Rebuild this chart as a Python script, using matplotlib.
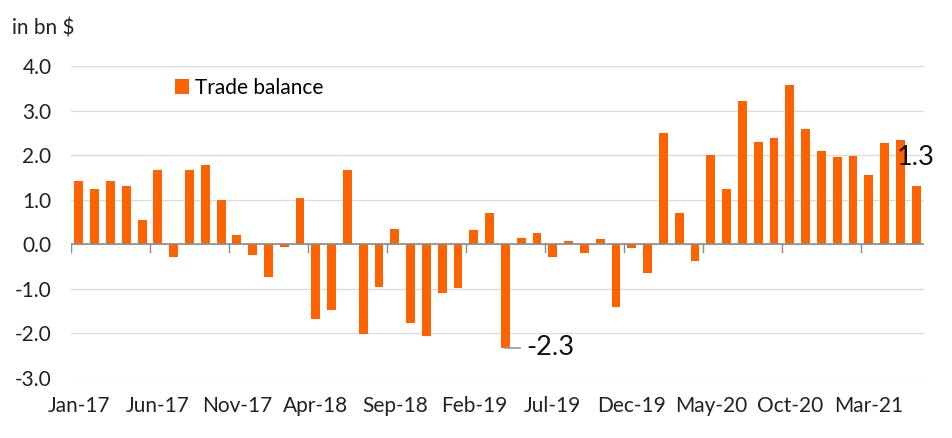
import matplotlib
matplotlib.use('Agg')
import matplotlib.pyplot as plt
import numpy as np

plt.rcParams['font.family'] = ['Lato', 'DejaVu Sans']

# monthly trade balance, Jan-17 .. Jun-21 (bn $)
months = ['Jan-17', 'Feb-17', 'Mar-17', 'Apr-17', 'May-17', 'Jun-17', 'Jul-17', 'Aug-17', 'Sep-17', 'Oct-17',
          'Nov-17', 'Dec-17', 'Jan-18', 'Feb-18', 'Mar-18', 'Apr-18', 'May-18', 'Jun-18', 'Jul-18', 'Aug-18',
          'Sep-18', 'Oct-18', 'Nov-18', 'Dec-18', 'Jan-19', 'Feb-19', 'Mar-19', 'Apr-19', 'May-19', 'Jun-19',
          'Jul-19', 'Aug-19', 'Sep-19', 'Oct-19', 'Nov-19', 'Dec-19', 'Jan-20', 'Feb-20', 'Mar-20', 'Apr-20',
          'May-20', 'Jun-20', 'Jul-20', 'Aug-20', 'Sep-20', 'Oct-20', 'Nov-20', 'Dec-20', 'Jan-21', 'Feb-21',
          'Mar-21', 'Apr-21', 'May-21', 'Jun-21']
balance = [1.42, 1.24, 1.42, 1.31, 0.55, 1.67, -0.28, 1.67, 1.78, 0.99,
           0.21, -0.24, -0.73, -0.06, 1.04, -1.67, -1.47, 1.67, -2.01, -0.96,
           0.34, -1.76, -2.06, -1.09, -0.98, 0.32, 0.70, -2.32, 0.14, 0.25,
           -0.28, 0.07, -0.19, 0.12, -1.40, -0.08, -0.64, 2.50, 0.70, -0.37,
           2.00, 1.24, 3.21, 2.30, 2.39, 3.57, 2.59, 2.09, 1.96, 1.98,
           1.56, 2.27, 2.34, 1.31]
yticks = [-3.0, -2.0, -1.0, 0.0, 1.0, 2.0, 3.0, 4.0]

orange = '#FF6200'
x = np.arange(len(months))

fig = plt.figure(figsize=(9.52, 4.38), dpi=100)
ax = fig.add_axes([0.0746, 0.137, 0.896, 0.712])

ax.bar(x, balance, width=0.56, color=orange, label='Trade balance', zorder=3)

ax.set_xlim(-0.5, len(months) - 0.5)
ax.set_ylim(-3, 4)
ax.set_yticks(yticks)
ax.set_yticklabels([f'{v:.1f}' for v in yticks])
ax.grid(axis='y', color='#dcdcdc', linewidth=1)
ax.set_axisbelow(True)
for s in ax.spines.values():
    s.set_visible(False)

step = 5
ax.set_xticks(x[::step])
ax.set_xticklabels(months[::step])
ax.tick_params(axis='x', length=0, pad=13, labelsize=15, labelcolor='#222222')
ax.tick_params(axis='y', length=0, pad=14, labelsize=15, labelcolor='#222222')

# zero line with the tick marks hanging from it
ax.axhline(0, color='#8c8c8c', linewidth=1.2, zorder=4)
for t in x[::step]:
    ax.plot([t - 0.5, t - 0.5], [0, -0.17], color='#8c8c8c', linewidth=1, zorder=4)

# value callouts
imin = int(np.argmin(balance))
ax.plot([imin, imin + 0.9], [balance[imin], balance[imin]], color='#999999', linewidth=1.2, zorder=4)
ax.text(imin + 1.3, balance[imin], f'{balance[imin]:.1f}', fontsize=19.5, va='center', ha='left', color='#111111')
ax.text(len(months) - 2.25, 1.96, f'{balance[-1]:.1f}', fontsize=19.5, va='center', ha='left', color='#111111', zorder=5)

ax.legend(loc='upper left', bbox_to_anchor=(0.108, 1.0), frameon=False, fontsize=15,
          handlelength=0.7, handleheight=0.7, handletextpad=0.3, borderaxespad=0.15)

fig.text(0.013, 0.935, 'in bn $', fontsize=15, color='#222222', va='center')

fig.savefig('out.png', dpi=100)
